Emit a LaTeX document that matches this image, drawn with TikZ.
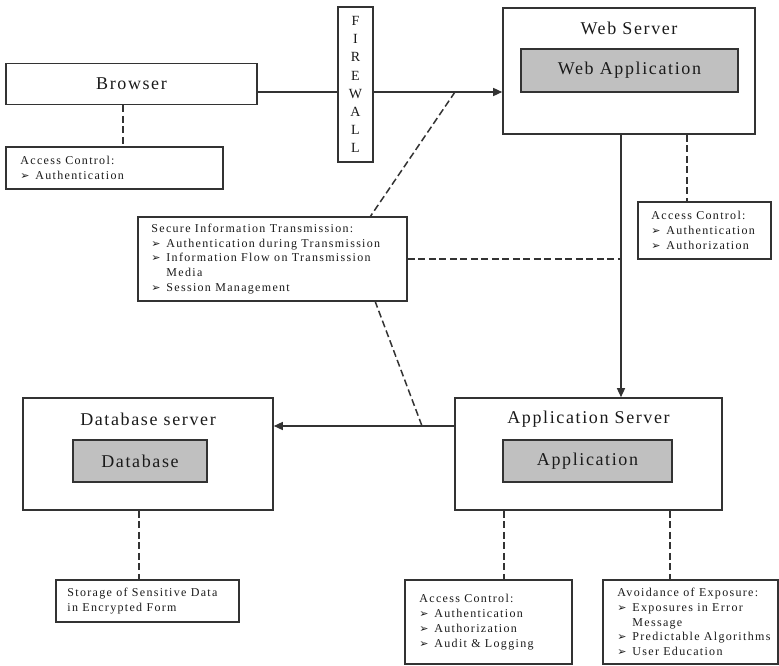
\documentclass[tikz,border=0pt]{standalone}
\usepackage{fontspec}
\setmainfont{Liberation Serif}
\newfontfamily\bigf[LetterSpace=9]{Liberation Serif}
\newfontfamily\smallf[LetterSpace=11]{Liberation Serif}
\newfontfamily\dejavu{DejaVu Sans}
\usetikzlibrary{arrows.meta,calc}
\definecolor{bordc}{HTML}{333333}
\definecolor{innerc}{HTML}{C0C0C0}
\definecolor{txtc}{HTML}{1A1A1A}
\newcommand\bul{\makebox[15pt][l]{\dejavu\fontsize{11}{11}\selectfont ➢}}
\newcommand\indt{\hspace*{15pt}}
\tikzset{
  box/.style={draw=bordc, line width=1.6pt, fill=white, inner sep=0pt},
  inbox/.style={draw=bordc, line width=1.6pt, fill=innerc, inner sep=0pt},
  txt/.style={text=txtc, inner sep=0pt, align=left, anchor=west, font=\smallf\fontsize{12}{14.8}\selectfont},
  big/.style={text=txtc, inner sep=0pt, font=\bigf\fontsize{18}{20}\selectfont},
  conn/.style={draw=bordc, line width=1.4pt},
  dsh/.style={draw=bordc, line width=1.5pt, dash pattern=on 7pt off 3.5pt},
  arr/.style={-{Triangle[length=9pt,width=8pt]}},
}
\begin{document}
\begin{tikzpicture}[x=1pt,y=-1pt]
\useasboundingbox (0,0) rectangle (779,666);

% Browser
\node[box, minimum width=251, minimum height=41] (browser) at (131.5,84) {};
\node[big] (browsert) at (browser.center) {Browser};
\node[box, minimum width=217, minimum height=42] (bac) at (114.5,168) {};
\node[txt] (bact) at ([xshift=15]bac.west) {Access Control:\\\bul Authentication};

% Firewall
\node[box, minimum width=35, minimum height=155] (fw) at (355.5,84.5) {};
\node[text=txtc, inner sep=0pt, align=center, font=\bigf\fontsize{14}{18.1}\selectfont] (fwt) at (fw.center) {F\\I\\R\\E\\W\\A\\L\\L};

% Web server
\node[box, minimum width=252, minimum height=126] (ws) at (629,71) {};
\node[big] (wst) at (629,28) {Web Server};
\node[inbox, minimum width=217, minimum height=43] (wsapp) at (629.5,70.5) {};
\node[big] (wsappt) at (wsapp.center) {Web Application};
\node[box, minimum width=133, minimum height=57] (wsac) at (704.5,230.5) {};
\node[txt] (wsact) at ([xshift=14]wsac.west) {Access Control:\\\bul Authentication\\\bul Authorization};

% Secure info
\node[box, minimum width=269, minimum height=84] (sec) at (272.5,259) {};
\node[txt] (sect) at ([xshift=14]sec.west) {Secure Information Transmission:\\\bul Authentication during Transmission\\\bul Information Flow on Transmission\\\indt Media\\\bul Session Management};

% Database server
\node[box, minimum width=250, minimum height=112] (db) at (148,454) {};
\node[big] (dbt) at (148,419) {Database server};
\node[inbox, minimum width=134, minimum height=42] (dbin) at (140,461) {};
\node[big] (dbint) at (dbin.center) {Database};
\node[box, minimum width=183, minimum height=42] (stor) at (147.5,601) {};
\node[txt] (stort) at ([xshift=12]stor.west) {Storage of Sensitive Data\\in Encrypted Form};

% Application server
\node[box, minimum width=267, minimum height=112] (as) at (588.5,454) {};
\node[big] (ast) at (588.5,419) {Application Server};
\node[inbox, minimum width=169, minimum height=42] (asin) at (587.5,461) {};
\node[big] (asint) at (asin.center) {Application};
\node[box, minimum width=167, minimum height=84] (aac) at (488.5,622) {};
\node[txt] (aact) at ([xshift=15]aac.west) {Access Control:\\\bul Authentication\\\bul Authorization\\\bul Audit \& Logging};
\node[box, minimum width=175, minimum height=84] (avd) at (690.5,622) {};
\node[txt] (avdt) at ([xshift=15]avd.west) {Avoidance of Exposure:\\\bul Exposures in Error\\\indt Message\\\bul Predictable Algorithms\\\bul User Education};

% helper coordinates
\coordinate (ly) at (0,92);
\coordinate (vx) at (621,0);
\coordinate (hy) at (0,426);
\coordinate (d1a) at (455,92);
\coordinate (d1b) at (370,217);
\coordinate (d2a) at (375,301);
\coordinate (d2b) at (422,426);
\coordinate (xb) at (123,0);
\coordinate (xw) at (687,0);
\coordinate (xd) at (139,0);
\coordinate (xa1) at (504,0);
\coordinate (xa2) at (670,0);

% solid connectors
\draw[conn] (browser.east |- ly) -- (fw.west |- ly);
\draw[conn, arr] (fw.east |- ly) -- (ws.west |- ly);
\draw[conn, arr] (ws.south -| vx) -- (as.north -| vx);
\draw[conn, arr] (as.west |- hy) -- (db.east |- hy);

% dashed connectors
\draw[dsh] (browser.south -| xb) -- (bac.north -| xb);
\draw[dsh] (ws.south -| xw) -- (wsac.north -| xw);
\draw[dsh] (d1a) -- (d1b);
\draw[dsh] (sec.east) -- (sec.east -| vx);
\draw[dsh] (d2a) -- (d2b);
\draw[dsh] (db.south -| xd) -- (stor.north -| xd);
\draw[dsh] (as.south -| xa1) -- (aac.north -| xa1);
\draw[dsh] (as.south -| xa2) -- (avd.north -| xa2);
\end{tikzpicture}
\end{document}
